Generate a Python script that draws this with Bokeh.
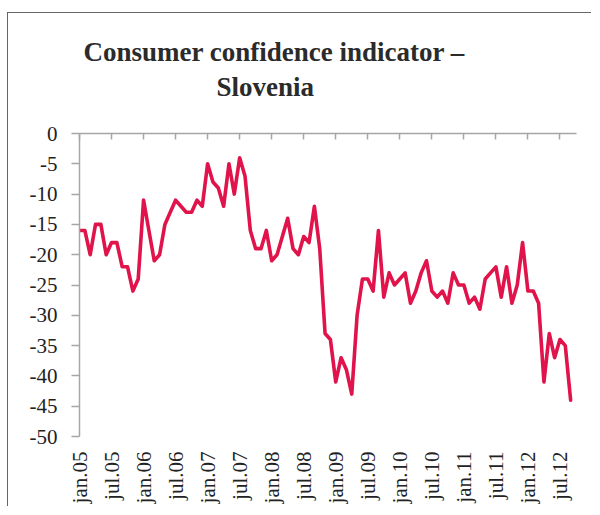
import math
from bokeh.plotting import figure
from bokeh.models import Range1d, FixedTicker, LinearAxis, Title, PrintfTickFormatter
from bokeh.embed import file_html
from bokeh.resources import INLINE

# Monthly consumer confidence indicator, Slovenia, jan.05 .. sep.12
confidence = [
    -16, -16, -20, -15, -15, -20, -18, -18, -22, -22, -26, -24,   # 2005
    -11, -16, -21, -20, -15, -13, -11, -12, -13, -13, -11, -12,   # 2006
    -5, -8, -9, -12, -5, -10, -4, -7, -16, -19, -19, -16,         # 2007
    -21, -20, -17, -14, -19, -20, -17, -18, -12, -19, -33, -34,   # 2008
    -41, -37, -39, -43, -30, -24, -24, -26, -16, -27, -23, -25,   # 2009
    -24, -23, -28, -26, -23, -21, -26, -27, -26, -28, -23, -25,   # 2010
    -25, -28, -27, -29, -24, -23, -22, -27, -22, -28, -25, -18,   # 2011
    -26, -26, -28, -41, -33, -37, -34, -35, -44,                  # 2012
]
month_index = list(range(len(confidence)))

tick_labels = ["jan.05", "jul.05", "jan.06", "jul.06", "jan.07", "jul.07",
               "jan.08", "jul.08", "jan.09", "jul.09", "jan.10", "jul.10",
               "jan.11", "jul.11", "jan.12", "jul.12"]
tick_positions = [6 * i for i in range(len(tick_labels))]
y_ticks = [0, -5, -10, -15, -20, -25, -30, -35, -40, -45, -50]

AXIS = "#A6A6A6"
TEXT = "#222222"
FONT = "Liberation Serif"

p = figure(width=584, height=494, output_backend="svg", toolbar_location=None,
           x_range=Range1d(0, 93.1), y_range=Range1d(-50, 0),
           min_border_left=71, min_border_top=120, min_border_right=16,
           min_border_bottom=71, title=None)
p.outline_line_color = None
p.xgrid.visible = False
p.ygrid.visible = False
p.background_fill_color = "white"
p.border_fill_color = "white"
# outer chart box (top and left edges visible in the reference)
p.styles = {"border-top": "1px solid #666666", "border-left": "1px solid #666666",
            "margin-left": "7px", "margin-top": "12px"}

# bottom axis: only the rotated labels
xa = p.xaxis[0]
xa.ticker = FixedTicker(ticks=tick_positions)
xa.major_label_overrides = {t: l for t, l in zip(tick_positions, tick_labels)}
xa.major_label_orientation = math.pi / 2
xa.axis_line_color = None
xa.major_tick_line_color = None
xa.minor_tick_line_color = None
xa.major_label_standoff = 9
xa.major_label_text_font = FONT
xa.major_label_text_font_size = "21px"
xa.major_label_text_color = TEXT

# top axis line at y = 0 with ticks pointing inward (blank labels give title spacing)
top = LinearAxis(ticker=FixedTicker(ticks=tick_positions))
top.major_label_overrides = {t: " " for t in tick_positions}
top.axis_line_color = AXIS
top.axis_line_width = 1.5
top.major_tick_line_color = AXIS
top.major_tick_line_width = 1.5
top.major_tick_in = 6
top.major_tick_out = 0
top.minor_tick_line_color = None
top.major_label_text_font_size = "10px"
top.major_label_text_color = "white"
top.major_label_standoff = 16
p.add_layout(top, "above")

# left axis
ya = p.yaxis[0]
ya.ticker = FixedTicker(ticks=y_ticks)
ya.formatter = PrintfTickFormatter(format="%d")
ya.axis_line_color = AXIS
ya.axis_line_width = 1.5
ya.major_tick_line_color = AXIS
ya.major_tick_line_width = 1.5
ya.major_tick_out = 8
ya.major_tick_in = 0
ya.minor_tick_line_color = None
ya.major_label_standoff = 14
ya.major_label_text_font = FONT
ya.major_label_text_font_size = "21px"
ya.major_label_text_color = TEXT

p.line(month_index, confidence, line_color="#E0134A", line_width=3.6,
       line_join="round", line_cap="round")

p.add_layout(Title(text="Slovenia", align="left", offset=137,
                   text_font=FONT, text_font_size="27px", text_font_style="bold",
                   text_color="#2B2B2B", standoff=4), "above")
p.add_layout(Title(text="Consumer confidence indicator \u2013", align="left", offset=4,
                   text_font=FONT, text_font_size="27px", text_font_style="bold",
                   text_color="#2B2B2B", standoff=2), "above")

open("out.html", "w").write(file_html(p, INLINE))
